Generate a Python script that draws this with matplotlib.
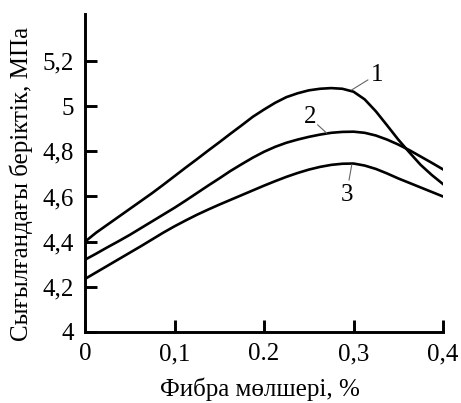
import matplotlib
matplotlib.use("Agg")
import matplotlib.pyplot as plt

# fibre content, %
fibre = [0, 0.0125, 0.025, 0.0375, 0.05, 0.0625, 0.075, 0.0875, 0.1,
         0.1125, 0.125, 0.1375, 0.15, 0.1625, 0.175, 0.1875, 0.2,
         0.2125, 0.225, 0.2375, 0.25, 0.2625, 0.275, 0.2875, 0.3,
         0.3125, 0.325, 0.3375, 0.35, 0.3625, 0.375, 0.3875, 0.4]
# compressive strength, MPa
curve1 = [4.40, 4.44, 4.475, 4.51, 4.545, 4.58, 4.615, 4.652, 4.69,
          4.728, 4.765, 4.803, 4.84, 4.878, 4.915, 4.953, 4.985,
          5.015, 5.04, 5.057, 5.07, 5.077, 5.08, 5.077, 5.064,
          5.03, 4.977, 4.915, 4.852, 4.795, 4.74, 4.695, 4.655]
curve2 = [4.32, 4.347, 4.375, 4.402, 4.43, 4.46, 4.49, 4.52, 4.55,
          4.582, 4.615, 4.648, 4.68, 4.713, 4.743, 4.772, 4.798,
          4.82, 4.838, 4.852, 4.864, 4.874, 4.882, 4.886, 4.887,
          4.882, 4.87, 4.852, 4.83, 4.805, 4.777, 4.749, 4.72]
curve3 = [4.235, 4.264, 4.293, 4.322, 4.351, 4.38, 4.41, 4.44, 4.468,
          4.494, 4.519, 4.542, 4.564, 4.585, 4.606, 4.627, 4.648,
          4.668, 4.687, 4.704, 4.719, 4.731, 4.74, 4.745, 4.746,
          4.737, 4.722, 4.702, 4.68, 4.66, 4.64, 4.62, 4.60]
curve_names = ["1", "2", "3"]

x_ticks = [0, 0.1, 0.2, 0.3, 0.4]
x_labels = ["0", "0,1", "0.2", "0,3", "0,4"]
y_ticks = [4, 4.2, 4.4, 4.6, 4.8, 5, 5.2]
y_labels = ["4", "4,2", "4,4", "4,6", "4,8", "5", "5,2"]

plt.rcParams["font.family"] = ["Liberation Serif", "DejaVu Serif"]
plt.rcParams["font.size"] = 18

fig = plt.figure(figsize=(4.61, 4.03), dpi=100)
ax = fig.add_axes([0.1844, 0.1762, 0.7766, 0.789])

for ys in (curve1, curve2, curve3):
    ax.plot(fibre, ys, color="black", lw=1.9, solid_joinstyle="round")

# curve labels with thin leader lines
label_pos = [((0.326, 5.138), (0.298, 5.072), (0.316, 5.116)),
             ((0.251, 4.952), (0.270, 4.881), (0.260, 4.917)),
             ((0.293, 4.607), (0.298, 4.740), (0.295, 4.673))]
for name, (txt, p0, p1) in zip(curve_names, label_pos):
    ax.plot([p0[0], p1[0]], [p0[1], p1[1]], color="#666666", lw=0.8)
    ax.text(txt[0], txt[1], name, ha="center", va="center")

ax.set_xlim(0, 0.4)
ax.set_ylim(4, 5.408)
ax.set_xticks(x_ticks)
ax.set_xticklabels(x_labels)
ax.set_yticks(y_ticks)
ax.set_yticklabels(y_labels)
ax.tick_params(direction="in", length=8.5, width=2.1, pad=8)

for side in ("top", "right"):
    ax.spines[side].set_visible(False)
for side in ("left", "bottom"):
    ax.spines[side].set_linewidth(2.1)

ax.set_xlabel("Фибра мөлшері, %", va="baseline")
ax.xaxis.set_label_coords(0.49, -0.2)
ax.set_ylabel("Сығылғандағы беріктік, МПа")
ax.yaxis.set_label_coords(-0.145, 0.465)

fig.savefig("out.png", dpi=100)
